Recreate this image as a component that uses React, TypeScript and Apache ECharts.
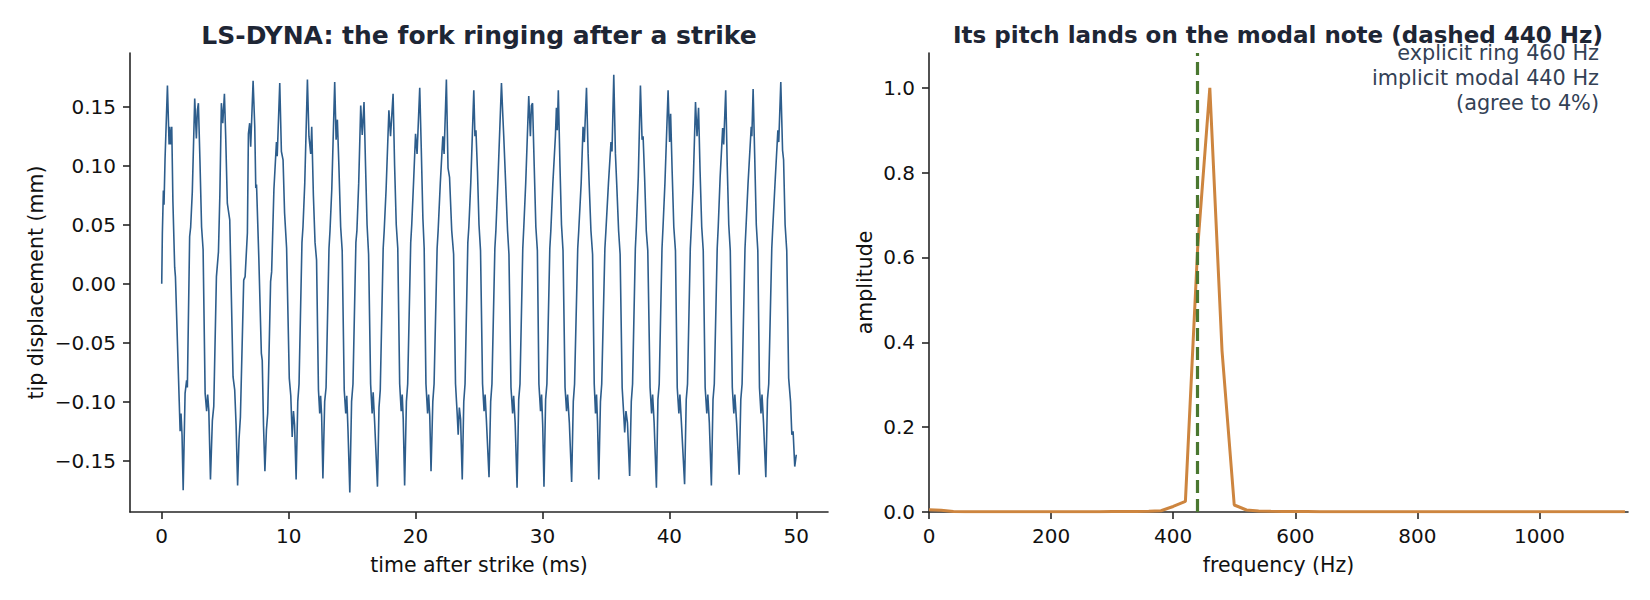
import React, { useEffect, useRef } from "react";
import * as echarts from "echarts";

// ---------- Left panel: tip displacement trace [time (ms), displacement (mm)] ----------
const TIP_TRACE: [number, number][] = [
  [0, 0], [0.05, 0.043], [0.13, 0.079], [0.18, 0.067], [0.26, 0.105], [0.45, 0.168], [0.58, 0.118], [0.63, 0.133], [0.71, 0.118], [0.79, 0.133], [0.88, 0.07], [1.02, 0.014], [1.08, 0.006], [1.38, -0.1], [1.45, -0.125], [1.52, -0.11], [1.6, -0.128],
  [1.69, -0.175], [1.84, -0.093], [1.96, -0.082], [2.02, -0.088], [2.2, 0.04], [2.28, 0.048], [2.41, 0.078], [2.6, 0.157], [2.73, 0.123], [2.81, 0.147], [2.89, 0.153], [3.01, 0.105], [3.14, 0.048], [3.26, 0.029], [3.42, -0.093], [3.54, -0.108], [3.62, -0.094], [3.71, -0.107],
  [3.84, -0.166], [3.99, -0.116], [4.1, -0.104], [4.31, 0.006], [4.47, 0.027], [4.58, 0.075], [4.7, 0.153], [4.81, 0.136], [4.94, 0.161], [5.04, 0.125], [5.17, 0.068], [5.36, 0.054], [5.62, -0.079], [5.75, -0.09], [5.86, -0.12],
  [5.98, -0.171], [6.09, -0.132], [6.2, -0.113], [6.46, 0.003], [6.57, 0.006], [6.75, 0.043], [6.83, 0.127], [6.93, 0.136], [7.01, 0.116], [7.2, 0.172], [7.33, 0.133], [7.41, 0.081], [7.47, 0.084], [7.65, 0.022], [7.85, -0.059], [7.92, -0.065], [8.02, -0.12],
  [8.13, -0.159], [8.25, -0.124], [8.35, -0.11], [8.58, 0.002], [8.66, 0.01], [8.84, 0.08], [9.04, 0.12], [9.1, 0.108], [9.3, 0.17], [9.43, 0.112], [9.56, 0.105], [9.68, 0.06], [9.84, 0.03], [10.05, -0.08], [10.17, -0.095], [10.28, -0.13], [10.38, -0.108], [10.47, -0.12],
  [10.59, -0.166], [10.72, -0.1], [10.82, -0.085], [11.05, 0.035], [11.13, 0.048], [11.27, 0.085], [11.48, 0.173], [11.6, 0.125], [11.74, 0.11], [11.82, 0.133], [11.95, 0.075], [12.08, 0.035], [12.2, 0.02], [12.35, -0.09], [12.45, -0.11], [12.52, -0.095], [12.6, -0.112],
  [12.7, -0.165], [12.84, -0.1], [12.95, -0.088], [13.18, 0.03], [13.26, 0.045], [13.4, 0.08], [13.63, 0.171], [13.74, 0.122], [13.84, 0.139], [13.96, 0.1], [14.1, 0.048], [14.22, 0.028], [14.38, -0.09], [14.5, -0.11], [14.58, -0.095], [14.68, -0.125],
  [14.82, -0.177], [14.96, -0.1], [15.07, -0.085], [15.3, 0.035], [15.38, 0.045], [15.52, 0.085], [15.68, 0.151], [15.8, 0.126], [15.94, 0.154], [16.06, 0.1], [16.18, 0.05], [16.3, 0.025], [16.46, -0.085], [16.58, -0.11], [16.66, -0.092], [16.78, -0.118],
  [17.0, -0.172], [17.12, -0.105], [17.22, -0.09], [17.45, 0.03], [17.53, 0.045], [17.68, 0.08], [17.9, 0.147], [18.03, 0.125], [18.23, 0.161], [18.35, 0.1], [18.48, 0.05], [18.6, 0.03], [18.75, -0.085], [18.87, -0.108], [18.95, -0.094], [19.03, -0.115],
  [19.14, -0.171], [19.28, -0.1], [19.38, -0.085], [19.62, 0.035], [19.7, 0.05], [19.84, 0.085], [20.0, 0.127], [20.12, 0.11], [20.33, 0.166], [20.45, 0.115], [20.58, 0.055], [20.68, 0.03], [20.82, -0.085], [20.95, -0.11], [21.03, -0.094], [21.12, -0.112],
  [21.22, -0.159], [21.36, -0.1], [21.46, -0.085], [21.7, 0.03], [21.78, 0.045], [21.95, 0.085], [22.15, 0.125], [22.25, 0.11], [22.43, 0.173], [22.56, 0.098], [22.68, 0.09], [22.85, 0.045], [23.0, 0.025], [23.15, -0.085], [23.28, -0.11], [23.36, -0.128], [23.45, -0.105], [23.55, -0.115],
  [23.68, -0.166], [23.8, -0.1], [23.9, -0.085], [24.12, 0.035], [24.2, 0.048], [24.35, 0.085], [24.59, 0.164], [24.68, 0.125], [24.76, 0.13], [24.88, 0.095], [25.0, 0.05], [25.12, 0.028], [25.28, -0.085], [25.4, -0.108], [25.48, -0.094], [25.58, -0.115],
  [25.79, -0.164], [25.92, -0.1], [26.02, -0.085], [26.25, 0.03], [26.33, 0.045], [26.5, 0.09], [26.77, 0.17], [26.87, 0.144], [26.95, 0.125], [27.1, 0.085], [27.25, 0.045], [27.36, 0.025], [27.52, -0.088], [27.65, -0.11], [27.73, -0.095], [27.85, -0.118],
  [28.0, -0.173], [28.13, -0.098], [28.23, -0.085], [28.45, 0.03], [28.53, 0.048], [28.68, 0.085], [28.92, 0.159], [29.05, 0.125], [29.13, 0.151], [29.22, 0.153], [29.35, 0.1], [29.48, 0.048], [29.6, 0.028], [29.72, -0.085], [29.85, -0.108], [29.93, -0.094], [30.02, -0.12],
  [30.12, -0.172], [30.25, -0.098], [30.35, -0.085], [30.58, 0.03], [30.66, 0.045], [30.82, 0.085], [31.02, 0.125], [31.1, 0.149], [31.17, 0.13], [31.25, 0.164], [31.38, 0.1], [31.5, 0.05], [31.62, 0.028], [31.78, -0.088], [31.9, -0.108], [31.98, -0.094], [32.12, -0.118],
  [32.3, -0.168], [32.43, -0.1], [32.53, -0.085], [32.78, 0.03], [32.86, 0.045], [33.05, 0.085], [33.2, 0.133], [33.3, 0.12], [33.47, 0.166], [33.6, 0.11], [33.68, 0.085], [33.82, 0.045], [33.95, 0.025], [34.08, -0.085], [34.18, -0.11], [34.26, -0.094], [34.34, -0.118],
  [34.44, -0.166], [34.57, -0.1], [34.67, -0.085], [34.92, 0.03], [35.0, 0.045], [35.2, 0.085], [35.4, 0.12], [35.48, 0.112], [35.62, 0.177], [35.75, 0.11], [35.85, 0.085], [36.0, 0.045], [36.12, 0.025], [36.28, -0.088], [36.4, -0.11], [36.48, -0.126], [36.58, -0.108], [36.7, -0.118],
  [36.87, -0.163], [37.0, -0.1], [37.1, -0.085], [37.32, 0.03], [37.4, 0.048], [37.55, 0.09], [37.72, 0.168], [37.85, 0.122], [37.93, 0.125], [38.05, 0.09], [38.18, 0.045], [38.3, 0.028], [38.48, -0.088], [38.6, -0.11], [38.68, -0.094], [38.8, -0.118],
  [38.98, -0.173], [39.1, -0.098], [39.2, -0.085], [39.42, 0.03], [39.5, 0.048], [39.65, 0.085], [39.9, 0.164], [40.02, 0.12], [40.1, 0.144], [40.22, 0.095], [40.35, 0.048], [40.48, 0.028], [40.62, -0.088], [40.75, -0.11], [40.83, -0.094], [40.95, -0.118],
  [41.2, -0.17], [41.33, -0.098], [41.43, -0.085], [41.65, 0.03], [41.73, 0.048], [41.88, 0.085], [42.06, 0.154], [42.18, 0.125], [42.3, 0.149], [42.42, 0.095], [42.55, 0.048], [42.67, 0.028], [42.82, -0.088], [42.95, -0.11], [43.03, -0.094], [43.15, -0.118],
  [43.31, -0.171], [43.44, -0.098], [43.54, -0.085], [43.77, 0.03], [43.85, 0.048], [44.0, 0.09], [44.2, 0.132], [44.28, 0.118], [44.44, 0.164], [44.56, 0.1], [44.68, 0.05], [44.8, 0.028], [44.96, -0.088], [45.08, -0.11], [45.16, -0.094], [45.3, -0.118],
  [45.5, -0.162], [45.63, -0.098], [45.73, -0.085], [45.96, 0.03], [46.04, 0.048], [46.2, 0.085], [46.45, 0.133], [46.5, 0.125], [46.6, 0.165], [46.72, 0.11], [46.85, 0.05], [46.97, 0.028], [47.1, -0.088], [47.22, -0.11], [47.3, -0.094], [47.42, -0.118],
  [47.6, -0.164], [47.73, -0.098], [47.83, -0.085], [48.07, 0.03], [48.15, 0.048], [48.35, 0.09], [48.55, 0.13], [48.62, 0.12], [48.78, 0.171], [48.92, 0.113], [49.0, 0.105], [49.12, 0.05], [49.25, 0.028], [49.4, -0.08], [49.55, -0.1], [49.65, -0.128], [49.75, -0.125], [49.88, -0.155], [50.0, -0.145],
];

// ---------- Right panel: spectrum ----------
const FREQ_HZ: number[] = [
  0, 20, 40, 60, 80, 100, 120, 140, 160, 180, 200, 220, 240, 260, 280, 300, 320, 340, 360, 380,
  400, 420, 440, 460, 480, 500, 520, 540, 560, 580, 600, 620, 640, 660, 680, 700, 720, 740, 760, 780,
  800, 820, 840, 860, 880, 900, 920, 940, 960, 980, 1000, 1020, 1040, 1060, 1080, 1100, 1120, 1140,
];
const AMPLITUDE: number[] = [
  0.0055, 0.004, 0.0012, 0.0008, 0.0007, 0.0007, 0.0006, 0.0007, 0.0006, 0.0007, 0.0006, 0.0007, 0.0007, 0.0008, 0.0008, 0.0009, 0.001, 0.0012, 0.0016, 0.003,
  0.013, 0.025, 0.62, 1.0, 0.38, 0.0165, 0.0047, 0.0022, 0.0015, 0.0012, 0.001, 0.0009, 0.0008, 0.0008, 0.0007, 0.0007, 0.0007, 0.0006, 0.0006, 0.0006,
  0.0006, 0.0006, 0.0005, 0.0005, 0.0005, 0.0005, 0.0005, 0.0005, 0.0005, 0.0005, 0.0005, 0.0005, 0.0005, 0.0005, 0.0005, 0.0005, 0.0005, 0.0005,
];
const MODAL_HZ = 440;

const TIME_TICKS = [0, 10, 20, 30, 40, 50];
const DISP_TICKS = [-0.15, -0.1, -0.05, 0, 0.05, 0.1, 0.15];
const FREQ_TICKS = [0, 200, 400, 600, 800, 1000];
const AMP_TICKS = [0, 0.2, 0.4, 0.6, 0.8, 1.0];

const LEFT_TITLE = "LS-DYNA: the fork ringing after a strike";
const RIGHT_TITLE = "Its pitch lands on the modal note (dashed 440 Hz)";
const NOTE_LINES = ["explicit ring 460 Hz", "implicit modal 440 Hz", "(agree to 4%)"];

const FONT = "DejaVu Sans";
const AXIS_COLOR = "#262626";
const TEXT_COLOR = "#111111";

function axisBase(ticks: number[], fmt: (v: number) => string) {
  return {
    type: "value" as const,
    axisLine: { show: true, onZero: false, lineStyle: { color: AXIS_COLOR, width: 1.6 } },
    axisTick: { show: true, length: 7, customValues: ticks, lineStyle: { color: AXIS_COLOR, width: 1.6 } },
    axisLabel: {
      show: true,
      customValues: ticks,
      formatter: (v: number) => fmt(v),
      fontSize: 20,
      fontFamily: FONT,
      color: TEXT_COLOR,
      margin: 14,
      hideOverlap: false,
    },
    splitLine: { show: false },
    nameTextStyle: { fontSize: 20.5, fontFamily: FONT, color: TEXT_COLOR },
    nameMoveOverlap: false,
  };
}

const minus = (s: string) => s.replace("-", "\u2212");

export default function App() {
  const ref = useRef<HTMLDivElement>(null);

  useEffect(() => {
    if (!ref.current) return;
    const chart = echarts.init(ref.current, undefined, { renderer: "svg" });

    const spectrum = FREQ_HZ.map((f, i) => [f, AMPLITUDE[i]]);

    const option: any = {
      animation: false,
      backgroundColor: "#ffffff",
      grid: [
        { left: 130, top: 53, width: 698, height: 459, outerBoundsMode: "none", containLabel: false },
        { left: 929, top: 53, width: 699, height: 459, outerBoundsMode: "none", containLabel: false },
      ],
      xAxis: [
        {
          ...axisBase(TIME_TICKS, (v) => minus(String(Math.round(v)))),
          gridIndex: 0,
          min: -2.5,
          max: 52.5,
          name: "time after strike (ms)",
          nameLocation: "middle",
          nameGap: 42,
        },
        {
          ...axisBase(FREQ_TICKS, (v) => String(Math.round(v))),
          gridIndex: 1,
          min: 0,
          max: 1145,
          name: "frequency (Hz)",
          nameLocation: "middle",
          nameGap: 42,
        },
      ],
      yAxis: [
        {
          ...axisBase(DISP_TICKS, (v) => minus(v.toFixed(2))),
          gridIndex: 0,
          min: -0.1935,
          max: 0.1955,
          name: "tip displacement (mm)",
          nameLocation: "middle",
          nameGap: 84,
        },
        {
          ...axisBase(AMP_TICKS, (v) => v.toFixed(1)),
          gridIndex: 1,
          min: 0,
          max: 1.082,
          name: "amplitude",
          nameLocation: "middle",
          nameGap: 54,
        },
      ],
      series: [
        {
          type: "line",
          xAxisIndex: 0,
          yAxisIndex: 0,
          data: TIP_TRACE,
          showSymbol: false,
          symbol: "none",
          lineStyle: { color: "#2d5d8c", width: 1.6 },
          emphasis: { disabled: true },
          z: 2,
        },
        {
          type: "line",
          xAxisIndex: 1,
          yAxisIndex: 1,
          data: spectrum,
          showSymbol: false,
          symbol: "none",
          lineStyle: { color: "#cd853f", width: 3 },
          emphasis: { disabled: true },
          z: 2,
          markLine: {
            silent: true,
            symbol: ["none", "none"],
            label: { show: false },
            lineStyle: { color: "#4a7730", width: 3.2, type: [13, 6] },
            data: [{ xAxis: MODAL_HZ }],
          },
        },
      ],
      graphic: [
        {
          type: "text",
          x: 479,
          y: 35,
          silent: true,
          style: {
            text: LEFT_TITLE,
            font: `bold 25px "${FONT}"`,
            fill: "#1e2635",
            align: "center",
            verticalAlign: "middle",
            textAlign: "center",
            textVerticalAlign: "middle",
          },
        },
        {
          type: "text",
          x: 1278,
          y: 35,
          silent: true,
          style: {
            text: RIGHT_TITLE,
            font: `bold 23px "${FONT}"`,
            fill: "#1e2635",
            align: "center",
            verticalAlign: "middle",
            textAlign: "center",
            textVerticalAlign: "middle",
          },
        },
        ...NOTE_LINES.map((line, i) => ({
          type: "text",
          x: 1599,
          y: 52.5 + i * 25.2,
          silent: true,
          style: {
            text: line,
            font: `20.8px "${FONT}"`,
            fill: "#334155",
            align: "right",
            verticalAlign: "middle",
            textAlign: "right",
            textVerticalAlign: "middle",
          },
        })),
      ],
    };

    chart.setOption(option);
    return () => chart.dispose();
  }, []);

  return (
    <div
      ref={ref}
      style={{ position: "fixed", left: 0, top: 0, width: 1650, height: 600, background: "#fff" }}
    />
  );
}
